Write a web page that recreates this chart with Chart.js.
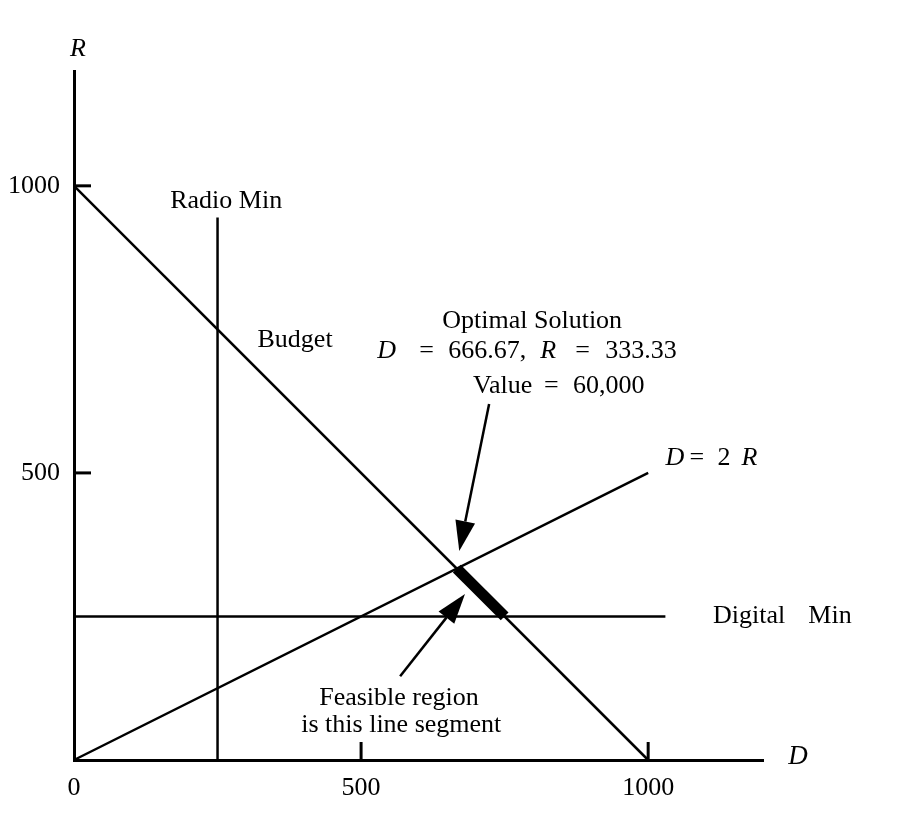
<!DOCTYPE html>
<html>
<head>
<meta charset="utf-8">
<script src="https://cdn.jsdelivr.net/npm/chart.js@4/dist/chart.umd.min.js"></script>
<style>
  html, body { margin: 0; padding: 0; background: #fff; }
  #wrap { width: 902px; height: 826px; }
</style>
</head>
<body>
<div id="wrap"><canvas id="lp" width="902" height="826"></canvas></div>
<script>
// Axis ticks
const xTicks = [0, 500, 1000];
const yTicks = [500, 1000];

// Constraint lines (D on x, R on y)
const budgetD = [0, 1000];
const budgetR = [1000, 0];
const radioMinD = [250, 250];
const radioMinR = [0, 945];
const digitalMinD = [0, 1030];
const digitalMinR = [250, 250];
const ratioD = [0, 1000];
const ratioR = [0, 500];

// Feasible segment along the budget line
const feasibleD = [666.67, 750];
const feasibleR = [333.33, 250];

// Pointer arrows: [tailD, tailR, tipD, tipR]
const optimumArrow = [723, 620, 671, 364];
const regionArrow = [568, 146, 681, 289];

const pts = (xs, ys) => xs.map((x, i) => ({ x: x, y: ys[i] }));

const SERIF = '"Liberation Serif", "Times New Roman", serif';

function lineSet(xs, ys, w) {
  return {
    data: pts(xs, ys),
    showLine: true,
    borderColor: '#000',
    borderWidth: w,
    borderCapStyle: 'butt',
    pointRadius: 0,
    pointHoverRadius: 0,
    clip: false
  };
}

// Text pieces: anchor in data units, optional pixel offset, font style
const labels = [
  { d: 7,    r: 1242, dx: 0, text: 'R', italic: true, size: 26, align: 'center', baseY: 56 },
  { d: 1261, r: 9,    dx: 0, text: 'D', italic: true, size: 27, align: 'center', baseY: 764 },
  { d: 265,  r: 979,  dx: 0, text: 'Radio Min', align: 'center', baseY: 208 },
  { d: 385,  r: 733,  dx: 0, text: 'Budget', align: 'center', baseY: 347 },
  { d: 798,  r: 774,  dx: 0, text: 'Optimal Solution', align: 'center', baseY: 328 },
  { d: 528,  r: 714,  dx: 0,   text: 'D', italic: true, align: 'left', baseY: 358 },
  { d: 528,  r: 714,  dx: 42,  text: '=', align: 'left', baseY: 358 },
  { d: 528,  r: 714,  dx: 71,  text: '666.67,', align: 'left', baseY: 358 },
  { d: 528,  r: 714,  dx: 163, text: 'R', italic: true, align: 'left', baseY: 358 },
  { d: 528,  r: 714,  dx: 198, text: '=', align: 'left', baseY: 358 },
  { d: 528,  r: 714,  dx: 228, text: '333.33', align: 'left', baseY: 358 },
  { d: 695,  r: 655,  dx: 0,  text: 'Value', align: 'left', baseY: 393 },
  { d: 695,  r: 655,  dx: 71, text: '=', align: 'left', baseY: 393 },
  { d: 695,  r: 655,  dx: 100, text: '60,000', align: 'left', baseY: 393 },
  { d: 1030, r: 526,  dx: 0,  text: 'D', italic: true, align: 'left', baseY: 465 },
  { d: 1030, r: 526,  dx: 24, text: '=', align: 'left', baseY: 465 },
  { d: 1030, r: 526,  dx: 52, text: '2', align: 'left', baseY: 465 },
  { d: 1030, r: 526,  dx: 76, text: 'R', italic: true, align: 'left', baseY: 465 },
  { d: 1113, r: 256,  dx: 0, text: 'Digital', align: 'left', baseY: 623 },
  { d: 1279, r: 256,  dx: 0, text: 'Min', align: 'left', baseY: 623 },
  { d: 566,  r: 113,  dx: 0, text: 'Feasible region', align: 'center', baseY: 705 },
  { d: 570,  r: 66,   dx: 0, text: 'is this line segment', align: 'center', baseY: 732 }
];

const decorations = {
  id: 'decorations',
  afterDatasetsDraw(chart) {
    const { ctx, scales: { x, y } } = chart;
    ctx.save();
    ctx.strokeStyle = '#000';
    ctx.fillStyle = '#000';
    // inward tick marks
    ctx.lineWidth = 3;
    ctx.lineCap = 'butt';
    const x0 = x.getPixelForValue(0), y0 = y.getPixelForValue(0);
    yTicks.forEach(v => {
      const py = y.getPixelForValue(v);
      ctx.beginPath(); ctx.moveTo(x0, py); ctx.lineTo(x0 + 17, py); ctx.stroke();
    });
    xTicks.filter(v => v > 0).forEach(v => {
      const px = x.getPixelForValue(v);
      ctx.beginPath(); ctx.moveTo(px, y0); ctx.lineTo(px, y0 - 18); ctx.stroke();
    });
    // arrows
    [optimumArrow, regionArrow].forEach(a => {
      const tx = x.getPixelForValue(a[0]), ty = y.getPixelForValue(a[1]);
      const hx = x.getPixelForValue(a[2]), hy = y.getPixelForValue(a[3]);
      const ang = Math.atan2(hy - ty, hx - tx);
      const len = 30, half = 10;
      const bx = hx - len * Math.cos(ang), by = hy - len * Math.sin(ang);
      ctx.lineWidth = 2.5;
      ctx.beginPath(); ctx.moveTo(tx, ty); ctx.lineTo(bx, by); ctx.stroke();
      ctx.beginPath();
      ctx.moveTo(hx, hy);
      ctx.lineTo(bx + half * Math.sin(ang), by - half * Math.cos(ang));
      ctx.lineTo(bx - half * Math.sin(ang), by + half * Math.cos(ang));
      ctx.closePath();
      ctx.fill();
    });
    ctx.restore();
  },
  afterDraw(chart) {
    const { ctx, scales: { x } } = chart;
    ctx.save();
    ctx.fillStyle = '#000';
    ctx.textBaseline = 'alphabetic';
    labels.forEach(l => {
      const size = l.size || 26;
      ctx.font = (l.italic ? 'italic ' : '') + size + 'px ' + SERIF;
      ctx.textAlign = l.align;
      ctx.fillText(l.text, x.getPixelForValue(l.d) + l.dx, l.baseY);
    });
    ctx.restore();
  }
};

new Chart(document.getElementById('lp'), {
  type: 'scatter',
  data: {
    datasets: [
      lineSet(budgetD, budgetR, 2.5),
      lineSet(radioMinD, radioMinR, 2.5),
      lineSet(digitalMinD, digitalMinR, 2.5),
      lineSet(ratioD, ratioR, 2.5),
      lineSet(feasibleD, feasibleR, 11)
    ]
  },
  options: {
    responsive: false,
    animation: false,
    devicePixelRatio: 1,
    layout: { padding: { top: 71, right: 139, left: 0, bottom: 0 } },
    plugins: { legend: { display: false }, tooltip: { enabled: false } },
    events: [],
    scales: {
      x: {
        type: 'linear',
        min: 0, max: 1200,
        afterBuildTicks: s => { s.ticks = xTicks.map(v => ({ value: v })); },
        afterFit: s => { s.height = 66; },
        grid: { display: false },
        border: { display: true, width: 3, color: '#000' },
        ticks: { color: '#000', padding: 5, maxRotation: 0, autoSkip: false,
                 callback: v => String(v),
                 font: { family: SERIF, size: 26 } }
      },
      y: {
        type: 'linear',
        min: 0, max: 1200,
        afterBuildTicks: s => { s.ticks = yTicks.map(v => ({ value: v })); },
        afterFit: s => { s.width = 74; },
        grid: { display: false },
        border: { display: true, width: 3, color: '#000' },
        ticks: { color: '#000', padding: 6, autoSkip: false,
                 callback: v => String(v),
                 font: { family: SERIF, size: 26 } }
      }
    }
  },
  plugins: [decorations]
});
</script>
</body>
</html>
